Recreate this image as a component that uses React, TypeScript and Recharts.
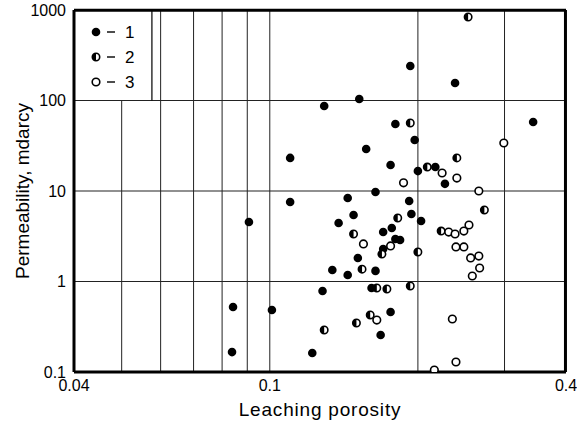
import React from 'react';
import { ScatterChart, Scatter, XAxis, YAxis, ReferenceLine, Label } from 'recharts';

// group 1 — filled circles
const porosity1 = [
  0.129, 0.152, 0.157, 0.193, 0.238, 0.18, 0.197, 0.343, 0.11, 0.11,
  0.164, 0.144, 0.148, 0.0907, 0.138, 0.151, 0.134, 0.144, 0.164, 0.176,
  0.2, 0.217, 0.227, 0.192, 0.194, 0.203, 0.17, 0.177, 0.18, 0.184,
  0.17, 0.161, 0.176, 0.168, 0.128, 0.0842, 0.101, 0.0838, 0.122,
];
const perm1 = [
  86.9, 104, 29.1, 241, 156, 55, 36.6, 57.9, 23.2, 7.56,
  9.75, 8.37, 5.43, 4.54, 4.43, 1.82, 1.34, 1.18, 1.31, 19.4,
  16.6, 18.4, 12.0, 7.75, 5.57, 4.66, 3.52, 3.9, 2.95, 2.87,
  2.29, 0.848, 0.46, 0.256, 0.785, 0.523, 0.484, 0.166, 0.162,
];

// group 2 — half-filled circles
const porosity2 = [
  0.253, 0.193, 0.24, 0.209, 0.273, 0.182, 0.2, 0.223, 0.169, 0.148,
  0.154, 0.165, 0.173, 0.193, 0.16, 0.129, 0.15,
];
const perm2 = [
  837, 56.4, 23.2, 18.4, 6.17, 5.03, 2.12, 3.61, 2.01, 3.35,
  1.37, 0.848, 0.826, 0.892, 0.427, 0.291, 0.348,
];

// group 3 — open circles
const porosity3 = [
  0.299, 0.224, 0.24, 0.187, 0.266, 0.155, 0.176, 0.231, 0.238, 0.248,
  0.254, 0.239, 0.248, 0.256, 0.266, 0.267, 0.258, 0.165, 0.235, 0.239, 0.216,
];
const perm3 = [
  33.9, 15.8, 13.9, 12.3, 10.0, 2.6, 2.47, 3.52, 3.35, 3.61,
  4.21, 2.41, 2.41, 1.82, 1.91, 1.41, 1.15, 0.375, 0.385, 0.129, 0.105,
];

const xTicks = [0.04, 0.1, 0.4];
const yTicks = [0.1, 1, 10, 100, 1000];
const xGrid = [0.06, 0.07, 0.08, 0.09, 0.1, 0.2, 0.3];
const yGrid = [1, 10, 100];
const legendLabels = ['1', '2', '3'];

const toPoints = (xs: number[], ys: number[]) => xs.map((x, i) => ({ x, y: ys[i] }));

const FONT = '"Liberation Sans Narrow", "Liberation Sans", Arial, sans-serif';
const FRAME = { stroke: '#000', strokeWidth: 3 };

function FilledDot(props: any) {
  const { cx, cy } = props;
  return <circle cx={cx} cy={cy} r={4.3} fill="#000" />;
}

function HalfDot(props: any) {
  const { cx, cy } = props;
  const r = 3.7;
  return (
    <g>
      <circle cx={cx} cy={cy} r={r} fill="#fff" stroke="#000" strokeWidth={1.6} />
      <path d={`M${cx},${cy - r} A${r},${r} 0 0 0 ${cx},${cy + r} Z`} fill="#000" />
    </g>
  );
}

function OpenDot(props: any) {
  const { cx, cy } = props;
  return <circle cx={cx} cy={cy} r={3.8} fill="#fff" stroke="#000" strokeWidth={1.6} />;
}

export default function App() {
  const tick = { fontSize: 16, fontFamily: FONT, fill: '#000' };
  return (
    <div style={{ position: 'absolute', left: 0, top: 0, width: 577, height: 428, background: '#fff' }}>
      <ScatterChart width={577} height={428} margin={{ top: 10, right: 11, left: 0, bottom: 0 }}>
        <XAxis
          dataKey="x"
          type="number"
          scale="log"
          domain={[0.04, 0.4]}
          ticks={xTicks}
          allowDataOverflow
          height={56}
          tickLine={false}
          axisLine={FRAME}
          tick={tick}
        >
          <Label
            value="Leaching porosity"
            position="insideBottom"
            offset={12}
            style={{ fontSize: 19, fontFamily: FONT, fill: '#000', letterSpacing: 0.8 }}
          />
        </XAxis>
        <YAxis
          dataKey="y"
          type="number"
          scale="log"
          domain={[0.1, 1000]}
          ticks={yTicks}
          allowDataOverflow
          width={74}
          tickLine={false}
          axisLine={FRAME}
          tick={tick}
        >
          <Label
            value="Permeability, mdarcy"
            angle={-90}
            position="insideLeft"
            offset={22}
            style={{ fontSize: 19, fontFamily: FONT, fill: '#000', textAnchor: 'middle' }}
          />
        </YAxis>

        {xGrid.map((v) => (
          <ReferenceLine key={`gx-${v}`} x={v} stroke="#222" strokeWidth={1} />
        ))}
        <ReferenceLine
          segment={[{ x: 0.05, y: 0.1 }, { x: 0.05, y: 100 }]}
          stroke="#222"
          strokeWidth={1}
        />
        {yGrid.map((v) => (
          <ReferenceLine key={`gy-${v}`} y={v} stroke="#222" strokeWidth={1.2} />
        ))}
        {/* legend box border */}
        <ReferenceLine
          segment={[{ x: 0.0576, y: 100 }, { x: 0.0576, y: 1000 }]}
          stroke="#000"
          strokeWidth={1.2}
        />
        {/* top and right frame, set a hair inside the domain so they are not discarded */}
        <ReferenceLine x={0.399} stroke="#000" strokeWidth={3} />
        <ReferenceLine y={995} stroke="#000" strokeWidth={3} />

        <Scatter data={toPoints(porosity1, perm1)} shape={FilledDot} isAnimationActive={false} />
        <Scatter data={toPoints(porosity2, perm2)} shape={HalfDot} isAnimationActive={false} />
        <Scatter data={toPoints(porosity3, perm3)} shape={OpenDot} isAnimationActive={false} />
      </ScatterChart>

      <svg
        width={80}
        height={90}
        style={{ position: 'absolute', left: 74, top: 10, pointerEvents: 'none' }}
      >
        {legendLabels.map((label, i) => {
          const cy = 22 + i * 25;
          const cx = 22;
          return (
            <g key={label}>
              {i === 0 && <FilledDot cx={cx} cy={cy} />}
              {i === 1 && <HalfDot cx={cx} cy={cy} />}
              {i === 2 && <OpenDot cx={cx} cy={cy} />}
              <line x1={33} x2={41} y1={cy} y2={cy} stroke="#000" strokeWidth={1.4} />
              <text x={51} y={cy + 6} fontSize={17} fontFamily={FONT} fill="#000">
                {label}
              </text>
            </g>
          );
        })}
      </svg>
    </div>
  );
}
